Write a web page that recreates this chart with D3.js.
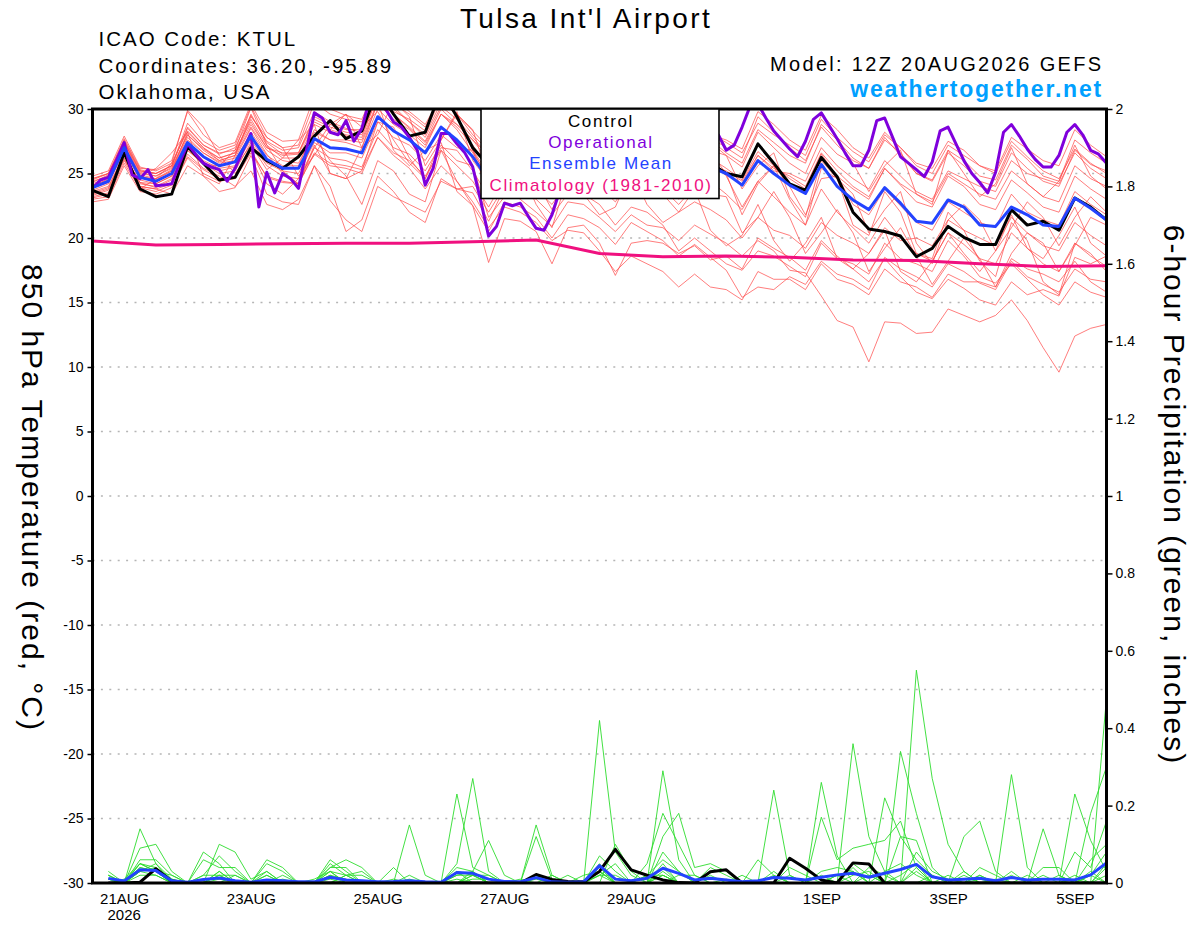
<!DOCTYPE html>
<html>
<head>
<meta charset="utf-8">
<script src="https://cdn.jsdelivr.net/npm/d3@7/dist/d3.min.js"></script>
<style>
html,body{margin:0;padding:0;background:#fff;}
svg{display:block;}
</style>
</head>
<body>
<svg id="chart" width="1200" height="927"></svg>
<script>
// ================= DATA =================
const runStart = "2026-08-20T12:00:00Z";
const runEnd = "2026-09-05T12:00:00Z";
const tickDates = ["2026-08-21","2026-08-23","2026-08-25","2026-08-27","2026-08-29","2026-09-01","2026-09-03","2026-09-05"];
const tickLabels = ["21AUG","23AUG","25AUG","27AUG","29AUG","1SEP","3SEP","5SEP"];
const tickYearLabels = ["2026","","","","","","",""];
const tempTicks = [-30,-25,-20,-15,-10,-5,0,5,10,15,20,25,30];
const precipTicks = [0,0.2,0.4,0.6,0.8,1,1.2,1.4,1.6,1.8,2];
const legendLabels = ["Control","Operational","Ensemble Mean","Climatology (1981-2010)"];
const titleText = "Tulsa Int'l Airport";
const infoLines = ["ICAO Code: KTUL","Coordinates: 36.20, -95.89","Oklahoma, USA"];
const modelText = "Model: 12Z 20AUG2026 GEFS";
const siteText = "weathertogether.net";
const leftAxisTitle = "850 hPa Temperature (red, °C)";
const rightAxisTitle = "6-hour Precipitation (green, inches)";

// 6-hourly 850 hPa temperature (°C), 20AUG 12Z .. 5SEP 12Z
const controlTemp = [23.7,23.2,26.6,23.8, 23.2,23.4,27.1,25.8, 24.5,24.7,27.0,26.0, 25.4,26.3,27.9,29.1,
  27.7,28.3,31.5,29.6, 27.9,28.2,31.5,29.4, 27.0,25.6,26.8,27.6, 26.4,25.5,27.6,27.0,
  26.2,25.4,27.2,26.8, 26.0,25.2,26.6,25.8, 25.0,24.75,27.3,25.8, 24.2,23.7,26.25,24.75,
  22.0,20.7,20.5,20.15, 18.55,19.2,20.9,20.05, 19.5,19.5,22.2,21.0, 21.3,20.6,23.1,22.4, 21.4];

// 3-hourly operational run
const operationalTemp = [23.85,24.5,24.7,26.0,27.4,24.9,24.6,25.3,
  24.05,24.1,24.2,25.8,27.3,26.5,25.8,25.5,
  25.3,24.4,25.4,26.8,28.1,22.4,25.1,23.5,
  25.0,24.6,23.85,26.8,29.7,29.3,28.2,28.0,
  29.1,27.5,28.5,30.8,31.2,30.0,29.0,28.6,
  27.8,26.8,24.1,25.4,28.1,28.1,27.3,26.6,
  25.5,22.9,20.15,20.9,22.7,22.5,22.7,21.7,
  20.75,20.6,21.8,23.7,26.0,27.5,28.2,27.4,
  26.5,26.2,27.8,29.0,29.6,28.8,27.8,27.0,
  27.6,29.2,30.4,30.6,30.0,29.0,28.6,28.0,
  26.8,27.2,28.6,30.2,30.4,29.3,28.3,27.6,
  26.9,26.3,27.5,29.2,29.7,28.7,27.7,26.6,
  25.6,25.6,26.8,29.1,29.3,27.8,26.3,25.8,
  25.3,24.75,25.9,28.3,28.6,27.3,26.0,25.0,
  24.3,23.5,25.1,28.2,28.8,27.9,26.9,26.1,
  25.5,25.5,26.4,28.2,28.8,28.0,26.8,26.5,
  25.8];

const ensembleMeanTemp = [23.9,24.4,27.0,24.7, 24.4,25.0,27.4,26.3, 25.6,25.9,27.9,26.1, 25.4,25.4,27.7,27.0,
  26.9,26.6,29.4,28.3, 27.6,26.6,28.6,27.6, 26.3,24.5,26.5,26.3, 25.6,24.6,26.6,26.1,
  25.4,24.2,26.0,25.6, 25.2,24.3,26.0,25.5, 25.0,24.1,26.0,25.0, 24.1,23.45,25.7,24.0,
  22.95,22.2,23.9,22.7, 21.3,21.15,22.95,22.4, 21.0,20.9,22.4,21.8, 21.0,20.9,23.1,22.3, 21.4];

// daily climatology at 12Z
const climatologyTemp = [19.77,19.45,19.5,19.55,19.6,19.6,19.7,19.85,18.8,18.55,18.6,18.5,18.3,18.25,18.0,17.8,17.85];

const memberTemps = [
 [24.5,25.0,27.6,25.3, 25.0,25.6,28.5,27.2, 26.5,27.0,29.5,27.5, 26.8,27.0,29.8,29.0, 28.5,28.2,31.2,30.2, 29.0,28.0,30.5,29.6, 28.0,26.8,28.5,28.6, 27.8,27.0,28.8,28.9, 28.2,27.3,28.9,28.3, 28.0,27.2,28.6,28.1, 27.4,26.6,28.9,28.0, 27.2,26.4,29.2,27.8, 26.7,25.9,28.0,27.0, 25.8,25.4,27.5,26.8, 25.6,25.2,27.8,26.9, 26.0,25.6,28.4,27.2, 26.3],
 [23.2,23.5,26.2,24.0, 23.8,24.2,26.5,25.4, 24.8,24.0,25.2,22.6, 22.2,23.0,25.6,24.0, 20.5,21.4,24.8,23.6, 22.0,21.2,24.6,23.8, 23.5,21.3,23.9,23.0, 22.0,20.9,22.8,22.6, 21.6,20.5,21.8,21.0, 20.8,19.8,21.0,20.3, 19.6,18.6,19.8,19.0, 17.5,17.3,15.5,13.6, 13.1,10.4,13.5,13.4, 12.6,12.7,14.5,14.0, 13.5,14.0,15.2,13.6, 11.5,9.6,12.4,13.0, 13.3],
 [23.0,23.2,25.8,23.8, 24.6,25.8,29.9,28.6, 26.4,25.0,26.8,24.2, 23.4,24.6,27.8,26.0, 24.8,22.6,26.0,25.2, 23.4,22.8,26.8,24.4, 22.5,20.5,22.8,22.4, 21.6,20.0,21.8,21.5, 20.8,19.5,21.2,20.5, 19.8,18.6,19.5,18.5, 17.5,15.4,16.2,16.0, 17.0,16.4,18.2,17.2, 16.8,16.0,18.5,17.6, 17.0,16.2,18.0,17.4, 16.5,16.0,18.2,17.0, 16.4,15.8,17.6,16.8, 16.6],
 [24.8,25.2,27.9,25.5, 25.2,25.8,28.3,27.0, 26.2,26.6,28.8,27.0, 26.4,26.5,29.0,28.4, 28.0,27.8,31.0,29.8, 29.2,28.3,30.8,29.6, 28.3,27.0,29.6,29.0, 28.2,27.5,29.2,28.6, 27.9,27.0,29.0,28.3, 27.6,26.8,28.6,27.8, 27.0,26.2,29.4,28.2, 27.0,26.0,28.6,27.2, 26.0,25.4,27.6,26.6, 25.0,24.5,26.8,26.0, 24.8,24.5,27.2,26.1, 24.8,24.4,27.6,26.6, 25.8],
 [24.0,24.6,27.2,24.9, 24.6,25.3,27.8,26.6, 25.9,26.2,28.5,26.5, 25.0,24.2,27.0,28.8, 29.6,28.6,29.8,27.6, 25.8,24.6,27.6,29.6, 26.8,25.0,26.8,27.2, 26.3,25.5,27.0,27.2, 26.6,25.8,27.3,26.8, 26.2,25.4,26.8,26.2, 25.4,24.5,26.7,25.6, 24.6,23.8,26.5,24.8, 23.8,23.0,25.4,24.1, 22.8,22.4,24.8,24.0, 22.6,22.2,24.5,23.5, 22.4,22.0,24.8,23.8, 23.0],
 [23.5,23.9,26.5,24.2, 24.0,24.6,27.0,25.8, 25.0,25.2,27.4,25.6, 24.8,24.6,27.0,26.2, 26.0,25.5,28.4,27.0, 26.5,25.2,27.2,26.0, 25.6,21.6,23.2,25.4, 22.6,20.8,24.8,23.4, 21.8,22.4,25.2,22.6, 21.2,22.0,23.8,20.6, 19.4,20.2,22.6,19.8, 18.2,19.6,21.6,18.4, 17.6,18.8,20.6,17.4, 16.6,18.2,20.4,18.8, 17.4,19.0,21.8,19.2, 18.4,20.2,22.4,19.6, 18.6],
 [24.3,24.9,27.5,25.2, 25.0,25.6,28.9,27.5, 26.8,27.2,30.2,27.8, 27.0,27.2,30.5,29.6, 29.2,29.0,31.5,30.4, 29.6,28.6,31.0,29.6, 28.4,24.6,26.4,28.6, 27.0,24.0,25.8,27.8, 26.6,23.6,24.8,26.8, 25.8,23.0,24.6,26.2, 24.8,22.4,24.4,25.6, 24.0,21.8,24.6,24.8, 22.6,21.8,23.8,22.5, 21.2,20.6,22.8,22.0, 21.2,20.8,23.4,22.0, 21.4,21.0,23.6,22.6, 21.8],
 [23.6,24.0,26.4,24.3, 24.2,24.8,26.8,25.8, 25.2,25.5,27.2,25.3, 26.2,27.6,28.8,25.0, 24.6,27.0,30.6,26.8, 25.6,26.8,27.4,23.6, 22.5,18.1,21.5,21.3, 20.5,18.0,20.8,21.0, 19.6,17.1,19.6,19.8, 19.6,18.8,19.4,18.3, 18.6,17.6,20.0,19.2, 18.5,17.5,19.8,18.6, 17.6,16.6,18.4,17.0, 15.8,15.3,16.8,16.1, 15.2,14.8,16.6,15.6, 16.0,15.5,18.5,18.0, 18.6],
 [24.2,24.7,27.3,25.0, 24.8,25.4,28.0,26.9, 26.2,26.6,29.2,27.2, 26.2,26.2,28.8,28.2, 27.9,27.6,30.6,29.6, 28.6,27.5,30.0,28.8, 27.6,26.0,28.0,28.2, 27.4,26.6,28.4,28.4, 27.6,26.8,28.4,27.9, 27.4,26.6,28.2,27.6, 26.6,25.8,28.4,27.4, 26.4,25.8,28.8,27.6, 26.2,25.4,27.8,26.4, 25.0,24.4,26.6,25.6, 24.4,24.0,26.6,25.4, 24.4,24.0,26.8,25.7, 25.2],
 [23.4,23.8,26.4,24.3, 23.9,24.5,26.8,25.7, 25.6,26.8,30.1,27.2, 25.2,24.2,27.2,25.0, 24.6,25.2,29.0,28.6, 26.2,24.6,27.0,26.8, 25.2,23.2,25.0,25.6, 24.6,23.5,25.0,25.4, 24.6,23.4,24.0,24.2, 24.4,23.2,24.4,24.4, 23.4,22.2,24.4,23.2, 22.0,21.0,23.8,22.0, 20.8,19.6,21.6,20.0, 18.8,18.2,20.4,19.5, 18.4,18.0,20.4,19.2, 18.0,17.4,19.6,18.6, 17.8],
 [24.6,25.0,27.7,25.4, 25.3,26.0,29.8,28.0, 27.0,27.4,30.4,28.2, 27.5,27.6,31.0,30.0, 29.5,29.2,32.0,30.8, 29.8,28.8,31.0,29.4, 26.8,24.5,26.2,26.8, 25.8,24.8,26.6,27.0, 26.4,25.6,27.4,27.0, 27.0,26.2,27.9,27.4, 26.4,25.5,28.2,27.0, 25.8,25.0,27.8,26.5, 25.8,23.6,25.6,26.8, 23.4,22.6,26.8,25.0, 23.2,24.2,27.0,24.2, 23.2,24.4,27.2,24.8, 23.8],
 [23.3,23.7,26.1,24.0, 23.8,23.4,25.6,24.8, 23.6,23.9,26.4,23.4, 22.8,22.6,25.6,22.9, 21.4,20.5,24.0,23.2, 22.6,22.0,24.4,23.8, 24.0,22.0,24.0,23.8, 23.0,21.8,23.4,23.4, 22.6,21.0,22.4,22.0, 21.0,19.0,20.0,19.0, 18.0,17.5,19.0,18.6, 17.8,17.0,19.6,18.4, 18.0,17.2,19.6,18.4, 18.0,17.4,19.8,18.6, 17.0,16.5,18.0,16.8, 15.6,14.8,16.6,15.8, 15.4],
 [24.1,24.5,27.0,24.8, 24.5,25.2,28.2,27.0, 26.0,26.4,29.6,27.4, 26.5,26.6,29.2,28.6, 28.2,28.0,31.0,29.6, 28.5,27.4,29.6,28.6, 27.2,25.5,27.6,27.8, 27.0,26.0,28.2,28.3, 27.5,26.4,27.6,27.2, 27.2,26.4,28.6,28.0, 27.6,26.9,29.8,28.8, 27.6,26.8,29.5,28.4, 27.0,26.2,28.2,27.0, 25.6,25.0,27.2,26.4, 25.6,25.0,27.5,26.3, 25.2,24.6,26.9,25.8, 25.0],
 [23.7,24.2,26.7,24.5, 24.2,24.8,27.2,26.0, 25.4,25.6,27.6,25.8, 25.2,25.0,27.4,26.6, 26.6,26.2,29.0,27.8, 27.2,26.0,28.0,27.0, 26.8,23.4,26.8,27.8, 24.4,22.2,24.8,26.6, 27.0,25.0,24.0,26.4, 26.8,23.2,24.4,26.6, 25.0,21.8,24.2,25.6, 23.0,21.0,25.4,24.6, 23.4,20.4,22.2,23.6, 19.6,18.0,21.4,22.6, 21.4,19.0,20.8,22.8, 21.6,19.4,21.6,23.2, 22.0],
 [24.4,24.8,27.4,25.1, 24.8,25.5,28.0,26.8, 26.0,26.4,28.6,26.8, 26.0,25.8,28.2,27.6, 27.6,27.4,30.4,29.2, 28.4,27.2,29.6,28.4, 26.6,24.8,26.4,27.0, 26.0,25.2,26.6,26.8, 25.4,24.4,25.4,24.8, 23.4,22.0,22.8,22.2, 21.4,20.0,21.6,20.6, 20.2,19.2,21.2,20.2, 19.6,18.8,20.8,19.8, 20.0,19.4,21.4,20.6, 20.0,19.4,21.6,20.4, 19.4,19.0,21.2,20.2, 19.4],
 [23.9,24.3,26.9,24.7, 24.6,25.2,27.6,26.6, 25.8,26.0,28.2,26.4, 25.6,25.6,28.4,27.6, 27.4,27.0,30.0,28.8, 28.0,27.0,29.6,28.8, 27.6,26.4,28.6,28.6, 27.6,26.9,28.6,28.6, 28.0,27.2,28.6,28.0, 27.0,26.0,27.4,26.8, 26.4,23.8,25.6,26.6, 23.2,21.6,26.0,24.6, 21.0,20.2,23.6,22.0, 18.8,18.4,22.0,20.6, 18.2,17.0,21.2,19.8, 16.6,15.6,19.6,18.8, 17.4],
 [24.0,24.4,27.1,24.8, 25.4,26.6,28.2,24.8, 24.2,26.4,29.4,27.8, 27.0,24.8,26.4,28.4, 29.6,27.0,28.0,30.6, 29.4,25.6,27.6,29.8, 26.0,24.4,26.0,26.4, 25.6,24.6,26.0,26.4, 25.8,25.0,25.9,25.6, 25.6,24.8,26.2,25.6, 25.2,24.4,26.4,25.4, 24.8,24.0,26.6,25.2, 24.0,23.2,25.4,24.2, 23.4,22.8,25.0,24.2, 23.4,23.0,25.2,24.2, 23.2,22.8,25.6,24.6, 24.0],
 [22.8,23.0,25.6,23.6, 23.4,23.9,26.2,25.0, 24.4,24.6,26.6,24.8, 24.4,24.2,26.6,25.8, 25.6,25.3,27.8,26.6, 26.0,24.8,26.8,25.6, 24.4,22.4,24.6,24.6, 23.8,22.6,24.4,24.6, 24.0,22.8,24.6,24.2, 23.8,22.6,24.0,23.4, 23.2,20.4,21.6,23.6, 21.6,18.8,20.4,22.2, 20.4,17.4,19.2,20.8, 18.6,16.4,18.2,20.0, 18.4,16.2,18.8,20.4, 19.6,17.4,19.4,21.6, 21.0],
 [24.6,25.0,27.4,25.2, 25.0,25.6,28.6,27.2, 26.6,26.8,29.0,27.0, 26.6,26.6,29.4,28.8, 28.4,28.4,31.2,30.0, 29.0,27.8,30.2,29.2, 27.8,26.4,28.8,28.8, 28.0,27.2,29.0,28.8, 28.2,27.4,28.4,27.6, 26.6,25.6,26.8,26.0, 25.0,24.2,26.4,25.2, 25.0,24.4,27.0,25.6, 24.6,23.8,26.0,24.8, 23.6,23.0,25.2,24.6, 24.0,23.6,26.0,25.0, 24.6,24.2,26.6,25.4, 24.6],
 [23.1,23.4,26.0,23.9, 23.6,24.1,26.3,25.3, 24.6,24.8,26.8,24.7, 24.3,24.2,26.5,25.6, 25.4,25.0,27.8,26.4, 25.4,23.8,25.6,24.4, 22.8,20.8,22.4,22.0, 21.2,19.8,20.6,20.4, 19.0,17.4,18.6,18.0, 17.4,16.2,17.2,16.2, 16.0,15.2,17.4,16.8, 16.8,16.0,18.0,16.8, 16.4,15.6,17.6,16.6, 16.2,15.4,17.2,16.6, 16.6,16.2,18.4,17.6, 17.2,16.6,18.2,16.6, 15.8]
];

// 6-hour precipitation (inches), 20AUG 18Z .. 5SEP 12Z
const controlPrecip = [0,0,.002,.037,.005,0,0,0, 0,0,0,0,0,0,0,0, 0,0,0,0,0,0,0,0, 0,0,0,.022,.009,.004,.003,.03,
  .087,.034,.02,.008,.001,0,.029,.034, 0,0,0,.064,.038,.008,0,.052, .049,0,0,0,0,0,0,0, 0,0,0,0,0,0,0,0];
const ensembleMeanPrecip = [.012,.005,.034,.032,.006,.002,.009,.013, .006,.002,.008,.006,.003,.003,.015,.008,
  .006,.003,.004,.006,.003,.002,.027,.025, .01,.004,.003,.014,.003,.002,.003,.045,
  .01,.006,.012,.038,.025,.008,.012,.008, .003,.006,.014,.012,.008,.015,.021,.025,
  .015,.025,.035,.048,.016,.008,.01,.012, .006,.014,.008,.01,.01,.008,.021,.052];
const memberPrecips = [
 [.02,0,.14,.05,.01,0,.02,.07, .03,0,0,0,0,0,.05,.02, 0,0,0,.15,.02,0,.05,.27, .03,0,0,.02,0,0,0,.42, .08,.02,0,.08,.03,0,0,0, 0,0,.24,.02,0,0,0,.05, .02,0,0,.55,.27,.10,.03,0, 0,.02,0,0,0,0,.02,.08],
 [.01,0,.09,.10,.03,0,0,.10, .08,.01,.03,0,0,0,.04,.06, .04,0,0,0,0,0,.23,.04, .02,0,0,.15,.02,0,0,.07, .03,0,0,.29,.06,0,.02,0, 0,0,0,0,0,.26,.07,0, 0,0,.34,.18,.04,0,0,.02, 0,0,0,.14,.02,0,0,.48],
 [.03,0,.06,.06,.02,0,.08,.05, 0,0,.06,.04,0,0,.06,.03, 0,0,.04,0,0,0,.04,.03, .11,.02,0,0,0,0,0,.04, 0,0,.05,.18,.10,.02,0,0, 0,0,0,0,0,0,0,.36, .12,.03,0,0,0,0,.12,.16, .03,0,0,0,0,0,.18,.30],
 [.01,0,.05,.04,0,0,.06,.04, .04,0,.05,.03,0,0,.03,.02, .03,0,0,0,0,0,.03,.02, 0,0,0,.12,.01,0,0,0, .10,.03,0,.12,.18,.04,.05,.03, 0,.06,.02,0,0,0,0,0, 0,.22,.12,.11,0,0,0,0, 0,.28,.04,0,0,.23,.11,.03],
 [0,0,.05,.03,0,0,0,.03, 0,0,.03,0,0,0,.04,.04, 0,0,0,.02,0,0,0,.03, 0,0,.01,0,0,0,0,.03, 0,0,.02,.06,.03,0,0,0, 0,0,0,0,0,.17,.06,.09, .10,.11,.16,.04,0,0,0,.04, .02,0,0,0,0,.08,.04,.16],
 [.02,0,.04,.03,.02,0,0,.02, 0,0,0,.02,0,0,.02,.01, 0,0,0,0,0,0,.02,.03, 0,0,0,.02,0,0,.02,.03, 0,0,0,.04,0,0,.04,.02, 0,0,0,.04,.02,0,0,.02, .03,0,.12,.06,.02,0,.03,0, 0,0,0,.04,.04,0,.06,.10],
 [0,0,.03,.02,0,0,.02,.02, .02,0,0,0,0,.01,.03,0, 0,0,0,0,0,0,0,.02, .02,0,0,0,0,.02,0,.02, .05,0,0,.03,0,0,0,0, .02,0,0,0,0,.03,.04,.03, 0,0,0,.08,.03,.01,0,0, 0,.03,0,0,0,.02,0,.05],
 [.01,0,.03,.04,.01,0,0,0, 0,0,.02,0,0,0,0,.02, 0,0,0,.01,0,0,.02,.02, 0,0,0,0,.02,0,0,.02, 0,0,0,0,.02,.02,0,0, 0,0,.03,0,0,0,.02,0, .04,.02,0,.03,0,0,0,.02, 0,0,.02,0,0,0,.03,0],
 [0,.01,.05,.03,0,0,0,.03, 0,0,0,0,0,0,.03,0, 0,0,.01,0,0,0,0,.02, 0,0,0,.01,0,0,0,0, 0,0,0,.02,0,0,0,0, 0,0,0,.02,0,0,0,.04, 0,0,.02,.05,0,.02,0,0, 0,0,0,0,.02,0,0,.02],
 [.02,0,.02,.02,0,0,0,.01, 0,0,0,.01,0,0,.02,0, 0,0,0,0,0,0,.01,0, 0,0,0,0,0,0,0,.02, .02,0,0,.05,0,0,0,.01, 0,0,0,0,0,.02,0,0, 0,.03,.05,.02,0,0,0,0, .01,0,0,0,0,.01,0,0],
 [0,0,.04,.03,0,0,0,0, .02,0,.02,0,0,0,0,.02, .02,0,0,0,0,0,0,.01, .01,0,0,0,0,0,0,0, 0,0,.02,.02,0,0,0,0, 0,0,0,0,0,0,.02,.03, 0,0,0,0,.02,0,0,.01, 0,0,0,.02,0,0,0,.04],
 [.01,0,.03,.05,0,0,0,.02, 0,0,0,0,0,0,.01,0, 0,0,0,0,0,0,.03,0, 0,0,0,0,0,0,0,.05, 0,0,0,.02,0,0,0,0, 0,0,.02,0,0,0,0,0, .02,0,0,.04,0,0,.02,0, 0,0,0,0,0,0,.02,0]
];

// ================= DRAWING =================
const FONT = "'Liberation Sans', Arial, Helvetica, sans-serif";
const svg = d3.select("#chart").attr("font-family", FONT);
svg.append("rect").attr("width",1200).attr("height",927).attr("fill","#fff");

const L = 92.5, R = 1106.5, T = 109, B = 883;
const HOUR = 3600e3;
const t0 = new Date(runStart).getTime();
const at = h => new Date(t0 + h*HOUR);

const x = d3.scaleUtc().domain([new Date(runStart), new Date(runEnd)]).range([L, R]);
const yT = d3.scaleLinear().domain([-30, 30]).range([B, T]);
const yP = d3.scaleLinear().domain([0, 2]).range([B, T]);

svg.append("defs").append("clipPath").attr("id","plotclip")
  .append("rect").attr("x",L).attr("y",T-1).attr("width",R-L).attr("height",B-T+1);

// grid lines
svg.append("g").selectAll("line")
  .data(tempTicks.filter(v => v > -30 && v < 30)).join("line")
  .attr("x1", L).attr("x2", R)
  .attr("y1", d => yT(d)).attr("y2", d => yT(d))
  .attr("stroke", "#b5b5b5").attr("stroke-width", 1.5)
  .attr("stroke-dasharray", "2,6.4");

const plot = svg.append("g").attr("clip-path","url(#plotclip)");

const lineTemp6 = d3.line().x((d,i) => x(at(i*6))).y(d => yT(d));
const lineTemp3 = d3.line().x((d,i) => x(at(i*3))).y(d => yT(d));
const lineClim = d3.line().x((d,i) => x(at(i*24))).y(d => yT(d));
const linePrecip = d3.line().x((d,i) => x(at((i+1)*6))).y(d => yP(d));

// ensemble members
plot.append("g").selectAll("path").data(memberTemps).join("path")
  .attr("d", lineTemp6).attr("fill","none")
  .attr("stroke","#ff4a4a").attr("stroke-opacity",0.8).attr("stroke-width",0.9);
plot.append("g").selectAll("path").data(memberPrecips).join("path")
  .attr("d", linePrecip).attr("fill","none")
  .attr("stroke","#2edc2e").attr("stroke-width",0.9);

// climatology
plot.append("path").datum(climatologyTemp).attr("d", lineClim).attr("fill","none")
  .attr("stroke","#f0107f").attr("stroke-width",3);
// control
plot.append("path").datum(controlTemp).attr("d", lineTemp6).attr("fill","none")
  .attr("stroke","#000").attr("stroke-width",3).attr("stroke-linejoin","round");
plot.append("path").datum(controlPrecip).attr("d", linePrecip).attr("fill","none")
  .attr("stroke","#000").attr("stroke-width",3).attr("stroke-linejoin","round");
// operational
plot.append("path").datum(operationalTemp).attr("d", lineTemp3).attr("fill","none")
  .attr("stroke","#7f00dc").attr("stroke-width",3).attr("stroke-linejoin","round");
// ensemble mean
plot.append("path").datum(ensembleMeanTemp).attr("d", lineTemp6).attr("fill","none")
  .attr("stroke","#2343ff").attr("stroke-width",3).attr("stroke-linejoin","round");
plot.append("path").datum(ensembleMeanPrecip).attr("d", linePrecip).attr("fill","none")
  .attr("stroke","#2343ff").attr("stroke-width",3).attr("stroke-linejoin","round");

// axes
const axL = svg.append("g").attr("transform",`translate(${L},0)`)
  .call(d3.axisLeft(yT).tickValues(tempTicks).tickSize(5).tickPadding(4).tickFormat(d => String(d)));
const axR = svg.append("g").attr("transform",`translate(${R},0)`)
  .call(d3.axisRight(yP).tickValues(precipTicks).tickSize(6).tickPadding(3).tickFormat(d => String(d)));
const axB = svg.append("g").attr("transform",`translate(0,${B})`)
  .call(d3.axisBottom(x).tickValues(tickDates.map(d => new Date(d+"T00:00:00Z")))
    .tickSize(0).tickPadding(10).tickFormat((d,i) => tickLabels[i]));
[axL, axR, axB].forEach(a => {
  a.select(".domain").remove();
  a.attr("font-family", FONT).attr("font-size", 14).attr("color","#000");
  a.selectAll("line").attr("stroke-width", 1.5);
});
axB.attr("font-size", 15);
svg.append("g").selectAll("text").data(tickDates).join("text")
  .attr("x", d => x(new Date(d+"T00:00:00Z"))).attr("y", 920)
  .attr("text-anchor","middle").attr("font-size",15)
  .text((d,i) => tickYearLabels[i]);

// frame
svg.append("rect").attr("x",L).attr("y",T).attr("width",R-L).attr("height",B-T)
  .attr("fill","none").attr("stroke","#000").attr("stroke-width",3);

// legend
const lg = svg.append("g");
lg.append("rect").attr("x",481).attr("y",T).attr("width",238).attr("height",89.5)
  .attr("fill","#fff").attr("stroke","#000").attr("stroke-width",1.6);
const legendColors = ["#000","#7f00dc","#2343ff","#f0107f"];
lg.selectAll("text").data(legendLabels).join("text")
  .attr("x", 601).attr("y", (d,i) => 126.7 + i*21.35)
  .attr("text-anchor","middle").attr("font-size",17).attr("letter-spacing",1.6)
  .attr("fill", (d,i) => legendColors[i]).text(d => d);

// titles and info
svg.append("text").attr("x",586).attr("y",28.3).attr("text-anchor","middle")
  .attr("font-size",28).attr("letter-spacing",2.4).text(titleText);
svg.append("g").selectAll("text").data(infoLines).join("text")
  .attr("x",98.5).attr("y",(d,i) => [45.7,72.7,99.3][i])
  .attr("font-size",20.5).attr("letter-spacing",2.0).text(d => d);
svg.append("text").attr("x",1103.3).attr("y",70.7).attr("text-anchor","end")
  .attr("font-size",20).attr("letter-spacing",2.3).text(modelText);
svg.append("text").attr("x",1103).attr("y",96.7).attr("text-anchor","end")
  .attr("font-size",23).attr("font-weight","bold").attr("letter-spacing",1.8)
  .attr("fill","#00a0ff").text(siteText);

// axis titles (rotated, reading downward)
svg.append("text").attr("transform","translate(21.7,498) rotate(90)")
  .attr("text-anchor","middle").attr("font-size",30).attr("letter-spacing",2.0)
  .text(leftAxisTitle);
svg.append("text").attr("transform","translate(1163.5,495) rotate(90)")
  .attr("text-anchor","middle").attr("font-size",30).attr("letter-spacing",2.0)
  .text(rightAxisTitle);
</script>
</body>
</html>
